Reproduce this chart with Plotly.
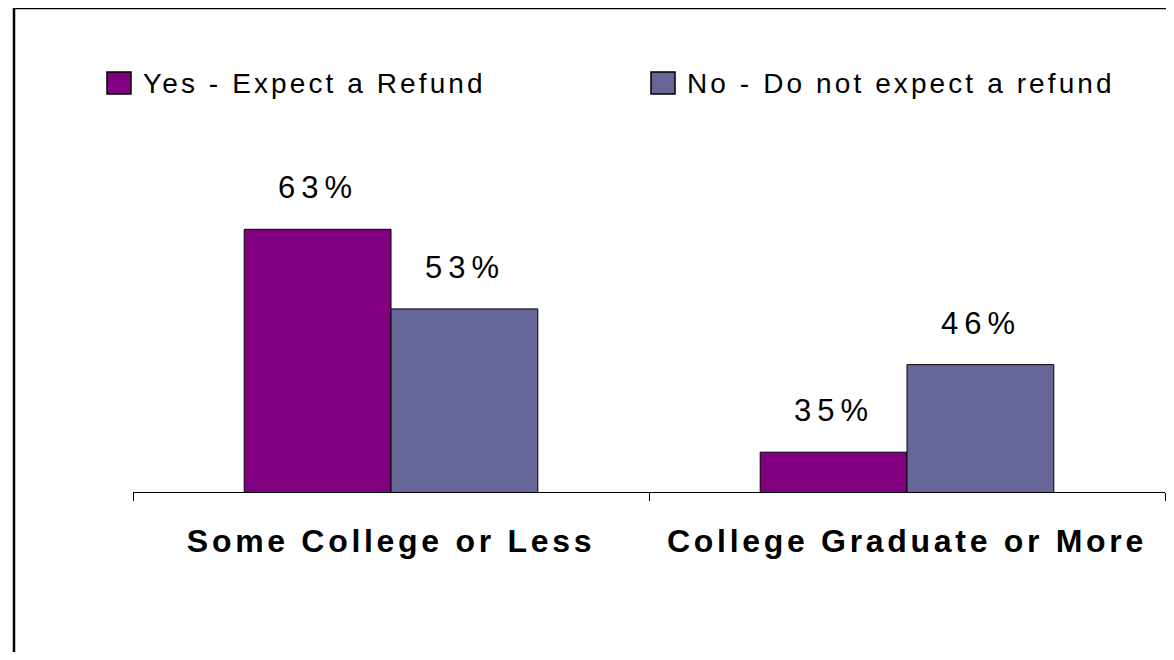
"""Refund expectation by education level: grouped bar chart."""

import plotly.graph_objects as go

# ---------------------------------------------------------------------------
# Data
# ---------------------------------------------------------------------------
categories = ["Some College or Less", "College Graduate or More"]
series_names = ["Yes - Expect a Refund", "No - Do not expect a refund"]
yes_values = [63, 35]
no_values = [53, 46]

_COLORS = ["#800080", "#666699"]
_FONT = "Liberation Sans, Arial, sans-serif"

# page body has an 8px margin, so the figure is a bit smaller than the window
W, H = 1158, 644


def spaced(text, px):
    """Wrap text in a span with extra tracking (the source text is stretched)."""
    return f'<span style="letter-spacing:{px}px">{text}</span>'


def px_x(x):
    return x / W


def px_y(y):
    return 1 - y / H


fig = go.Figure()
for name, vals, color in zip(series_names, [yes_values, no_values], _COLORS):
    fig.add_trace(
        go.Bar(
            x=categories,
            y=vals,
            name=name,
            marker=dict(color=color, line=dict(color="#000000", width=1)),
            showlegend=False,
        )
    )

# value labels above each bar
for vals, shift in [(yes_values, -73.5), (no_values, 73.5)]:
    for cat, v in zip(categories, vals):
        fig.add_annotation(
            x=cat, y=v, text=spaced(f"{v}%", 6), showarrow=False,
            xshift=shift, yshift=22, yanchor="bottom",
            font=dict(family=_FONT, size=31, color="#000000"),
        )

# legend drawn by hand so the swatches can be as big as in the source
shapes = []
for i, (name, color) in enumerate(zip(series_names, _COLORS)):
    x0 = [99, 643][i]
    shapes.append(
        dict(type="rect", xref="paper", yref="paper",
             x0=px_x(x0), x1=px_x(x0 + 24), y0=px_y(86), y1=px_y(64),
             fillcolor=color, line=dict(color="#000000", width=1.5))
    )
    fig.add_annotation(
        xref="paper", yref="paper", x=px_x(x0 + 34), y=px_y(75),
        xanchor="left", yanchor="middle", showarrow=False,
        text=spaced(name, 3.1),
        font=dict(family=_FONT, size=28, color="#000000"),
    )

# outer frame (left and top edges are visible in the source)
shapes += [
    dict(type="line", xref="paper", yref="paper", x0=px_x(6), x1=1,
         y0=1, y1=1, line=dict(color="black", width=2.5)),
    dict(type="line", xref="paper", yref="paper", x0=px_x(6), x1=px_x(6),
         y0=0, y1=1, line=dict(color="black", width=2.5)),
]

fig.update_layout(
    width=W,
    height=H,
    margin=dict(l=0, r=0, t=0, b=0),
    paper_bgcolor="white",
    plot_bgcolor="white",
    barmode="group",
    bargap=0.431,
    bargroupgap=0,
    showlegend=False,
    shapes=shapes,
)
fig.update_xaxes(
    domain=[px_x(125), px_x(1157)],
    showline=True, linecolor="black", linewidth=1,
    ticks="outside", tickson="boundaries", ticklen=8, tickcolor="black",
    tickmode="array", tickvals=categories,
    ticktext=[spaced(c, 3.7) for c in categories],
    ticklabelstandoff=21,
    tickfont=dict(family=_FONT, size=32, color="#000000", weight="bold"),
    showgrid=False,
)
fig.update_yaxes(
    domain=[px_y(484), px_y(165.6)],
    range=[30, 70],
    visible=False,
)

fig.write_html("out.html")
